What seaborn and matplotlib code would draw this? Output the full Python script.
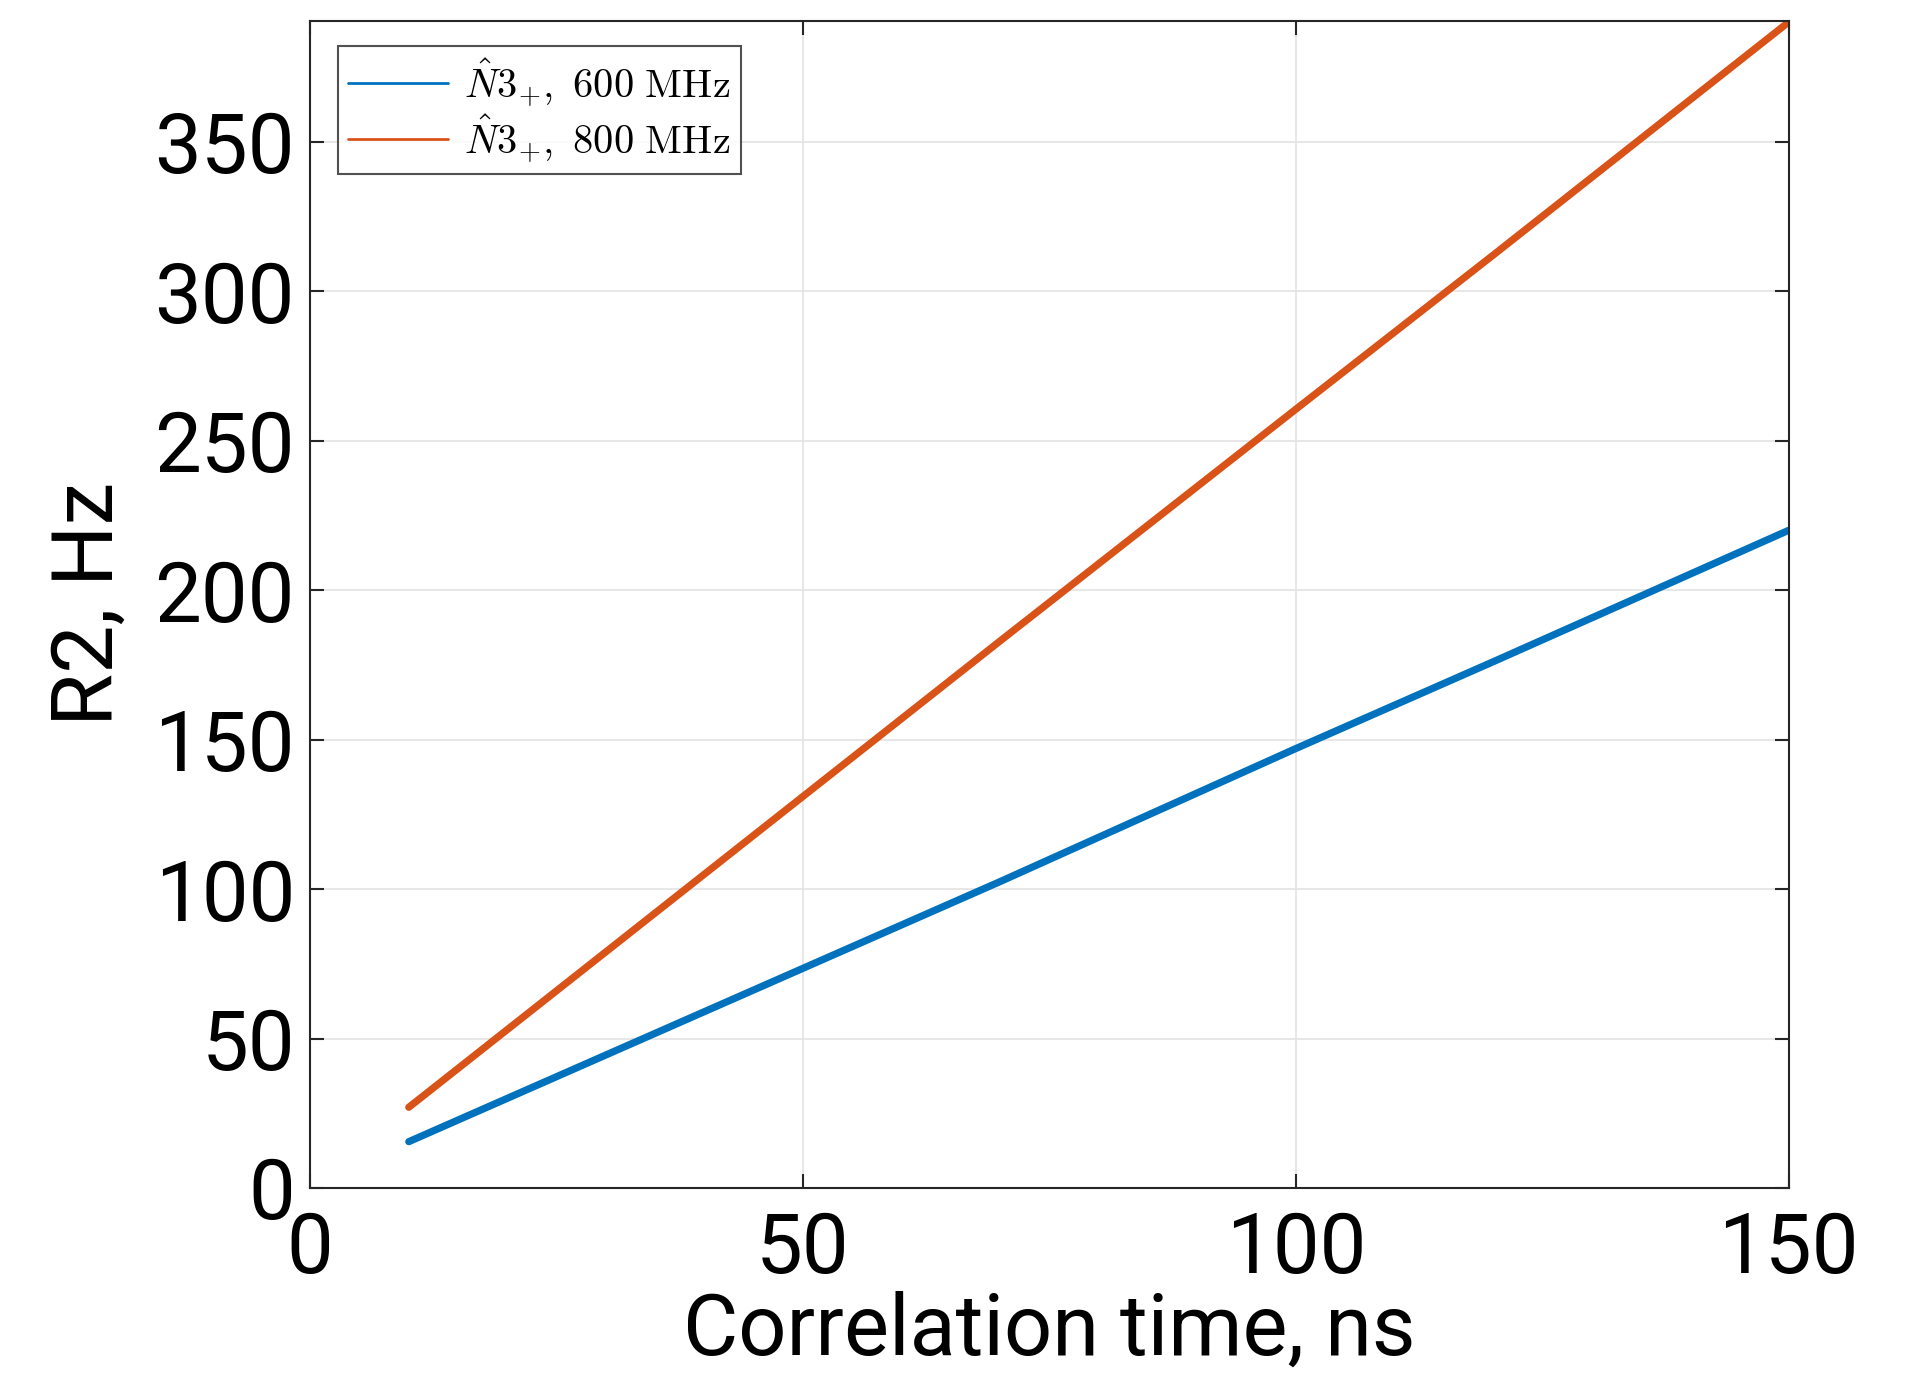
import numpy as np
import pandas as pd
import matplotlib
matplotlib.use("Agg")
import matplotlib.pyplot as plt
import seaborn as sns

# Data
tau_ns = [10, 30, 50, 70, 100, 120, 150]
r2_600 = [15.5, 44.5, 73.5, 102.5, 147, 176, 220]
r2_800 = [27, 79, 131, 183, 260.5, 312, 390]
labels = [r'$\hat{N}3_{+},\ \mathrm{600\ MHz}$', r'$\hat{N}3_{+},\ \mathrm{800\ MHz}$']
xticks = [0, 50, 100, 150]
yticks = [0, 50, 100, 150, 200, 250, 300, 350]

df = pd.DataFrame({
    "tau": tau_ns * 2,
    "R2": r2_600 + r2_800,
    "series": [labels[0]] * len(tau_ns) + [labels[1]] * len(tau_ns),
})

sns.set_theme(style="ticks")
plt.rcParams['font.family'] = ['Roboto', 'DejaVu Sans']
plt.rcParams['mathtext.fontset'] = 'cm'
plt.rcParams['text.color'] = 'black'
plt.rcParams['axes.labelcolor'] = 'black'
plt.rcParams['xtick.labelcolor'] = 'black'
plt.rcParams['ytick.labelcolor'] = 'black'

fig = plt.figure(figsize=(19.15, 13.75), dpi=100)
ax = fig.add_axes([0.162, 0.136, 0.772, 0.849])

palette = {labels[0]: "#0072BD", labels[1]: "#D95319"}
sns.lineplot(data=df, x="tau", y="R2", hue="series", palette=palette,
             linewidth=5.2, ax=ax, legend=True)

ax.set_xlim(0, 150)
ax.set_ylim(0, 390.5)
ax.set_xticks(xticks)
ax.set_yticks(yticks)
ax.grid(True, color="#e3e3e3", linewidth=1.2)
ax.set_axisbelow(True)
for s in ax.spines.values():
    s.set_color("#262626")
    s.set_linewidth(1.5)
ax.tick_params(direction="in", length=10, width=1.5, color="#262626",
               top=True, right=True, labelsize=60)
ax.tick_params(axis="y", pad=11)
ax.tick_params(axis="x", pad=16)
ax.set_xlabel("Correlation time, ns", fontsize=61, labelpad=0)
ax.set_ylabel("R2, Hz", fontsize=62, labelpad=18)

leg = ax.legend(loc="upper left", bbox_to_anchor=(0.0185, 0.978),
                fontsize=29, frameon=True, fancybox=False, edgecolor="#262626",
                handlelength=2.5, borderpad=0.25, labelspacing=0.1,
                handletextpad=0.4, borderaxespad=0.0)
leg.get_frame().set_linewidth(1.5)
for h in leg.get_lines():
    h.set_linewidth(2.0)

fig.savefig("out.png", dpi=100)
